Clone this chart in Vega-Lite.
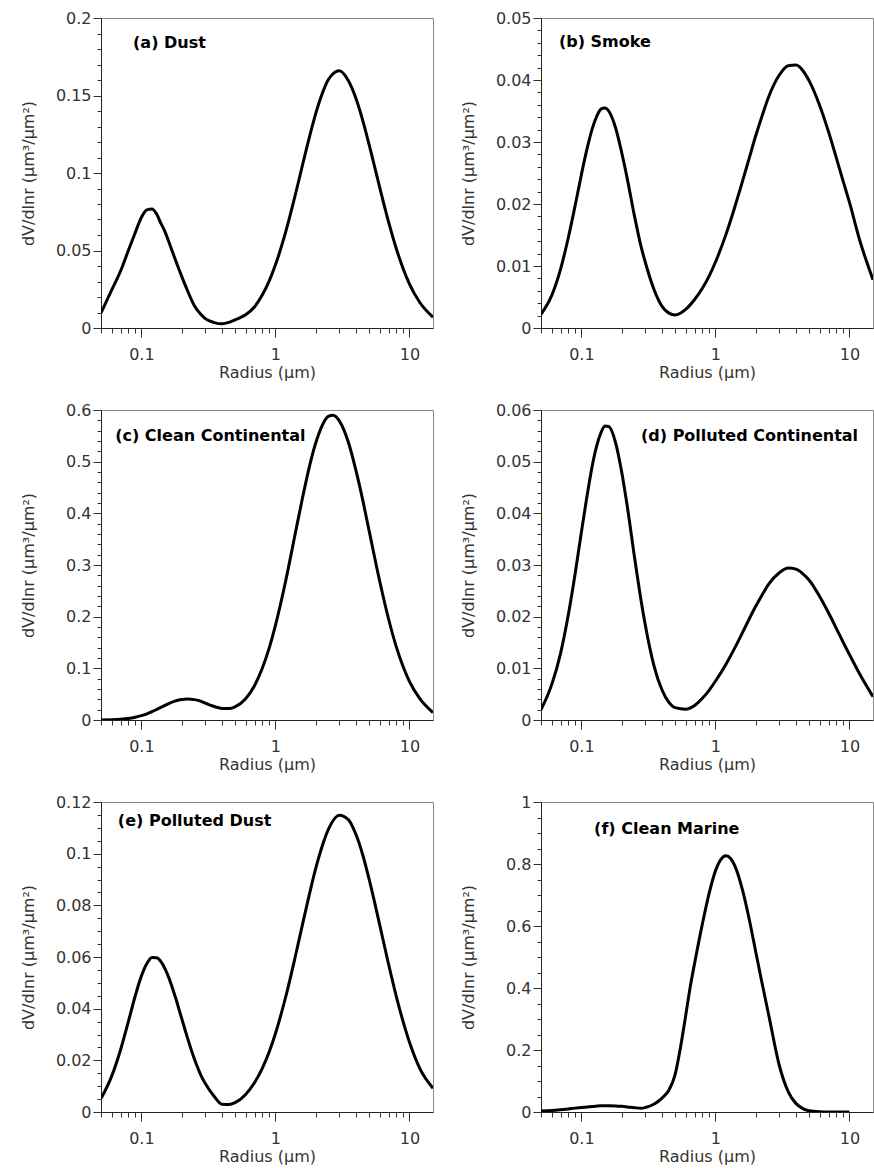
{
"$schema": "https://vega.github.io/schema/vega-lite/v6.json",
"padding": {"left": 19, "top": 9, "right": 0, "bottom": 0},
"datasets": {
"d": [
{"p":"a","r":0.05,"v":0.0097},{"p":"a","r":0.06,"v":0.0244},{"p":"a","r":0.07,"v":0.0368},{"p":"a","r":0.08,"v":0.050},{"p":"a","r":0.09,"v":0.0615},{"p":"a","r":0.1,"v":0.0713},{"p":"a","r":0.11,"v":0.0762},{"p":"a","r":0.12,"v":0.0768},{"p":"a","r":0.13,"v":0.0735},{"p":"a","r":0.14,"v":0.0675},{"p":"a","r":0.15,"v":0.0622},{"p":"a","r":0.16,"v":0.0558},{"p":"a","r":0.18,"v":0.0437},{"p":"a","r":0.2,"v":0.0333},{"p":"a","r":0.22,"v":0.0245},{"p":"a","r":0.25,"v":0.0140},{"p":"a","r":0.28,"v":0.0085},{"p":"a","r":0.3,"v":0.006},{"p":"a","r":0.35,"v":0.0035},{"p":"a","r":0.4,"v":0.0027},{"p":"a","r":0.45,"v":0.0036},{"p":"a","r":0.5,"v":0.0052},{"p":"a","r":0.6,"v":0.0085},{"p":"a","r":0.7,"v":0.0137},{"p":"a","r":0.8,"v":0.0214},{"p":"a","r":0.9,"v":0.0304},{"p":"a","r":1,"v":0.0406},{"p":"a","r":1.2,"v":0.0626},{"p":"a","r":1.4,"v":0.085},{"p":"a","r":1.6,"v":0.1057},{"p":"a","r":1.8,"v":0.1236},{"p":"a","r":2,"v":0.1383},{"p":"a","r":2.2,"v":0.1495},{"p":"a","r":2.5,"v":0.1606},{"p":"a","r":3,"v":0.1660},{"p":"a","r":3.5,"v":0.1597},{"p":"a","r":4,"v":0.1479},{"p":"a","r":4.5,"v":0.1335},{"p":"a","r":5,"v":0.1185},{"p":"a","r":6,"v":0.0908},{"p":"a","r":7,"v":0.0683},{"p":"a","r":8,"v":0.051},{"p":"a","r":9,"v":0.0381},{"p":"a","r":10,"v":0.0285},{"p":"a","r":12,"v":0.0163},{"p":"a","r":15,"v":0.0070},
{"p":"b","r":0.05,"v":0.0022},{"p":"b","r":0.06,"v":0.0052},{"p":"b","r":0.07,"v":0.0095},{"p":"b","r":0.08,"v":0.0146},{"p":"b","r":0.09,"v":0.0198},{"p":"b","r":0.1,"v":0.0247},{"p":"b","r":0.11,"v":0.0288},{"p":"b","r":0.12,"v":0.0320},{"p":"b","r":0.13,"v":0.0341},{"p":"b","r":0.14,"v":0.0353},{"p":"b","r":0.15,"v":0.0355},{"p":"b","r":0.16,"v":0.0350},{"p":"b","r":0.18,"v":0.0323},{"p":"b","r":0.2,"v":0.0283},{"p":"b","r":0.22,"v":0.0241},{"p":"b","r":0.25,"v":0.0179},{"p":"b","r":0.28,"v":0.0130},{"p":"b","r":0.3,"v":0.0106},{"p":"b","r":0.35,"v":0.0061},{"p":"b","r":0.4,"v":0.0035},{"p":"b","r":0.45,"v":0.0024},{"p":"b","r":0.5,"v":0.0021},{"p":"b","r":0.6,"v":0.003},{"p":"b","r":0.7,"v":0.0046},{"p":"b","r":0.8,"v":0.0064},{"p":"b","r":0.9,"v":0.0084},{"p":"b","r":1,"v":0.0106},{"p":"b","r":1.2,"v":0.0151},{"p":"b","r":1.4,"v":0.0196},{"p":"b","r":1.6,"v":0.0238},{"p":"b","r":1.8,"v":0.0276},{"p":"b","r":2,"v":0.0310},{"p":"b","r":2.2,"v":0.0338},{"p":"b","r":2.5,"v":0.0373},{"p":"b","r":3,"v":0.0408},{"p":"b","r":3.5,"v":0.0423},{"p":"b","r":4,"v":0.0424},{"p":"b","r":4.5,"v":0.0415},{"p":"b","r":5,"v":0.0399},{"p":"b","r":6,"v":0.0359},{"p":"b","r":7,"v":0.0316},{"p":"b","r":8,"v":0.0274},{"p":"b","r":9,"v":0.0236},{"p":"b","r":10,"v":0.0203},{"p":"b","r":12,"v":0.0140},{"p":"b","r":15,"v":0.0078},
{"p":"c","r":0.05,"v":0.0002},{"p":"c","r":0.06,"v":0.0006},{"p":"c","r":0.07,"v":0.0015},{"p":"c","r":0.08,"v":0.003},{"p":"c","r":0.09,"v":0.0054},{"p":"c","r":0.1,"v":0.0084},{"p":"c","r":0.11,"v":0.012},{"p":"c","r":0.12,"v":0.0161},{"p":"c","r":0.13,"v":0.0203},{"p":"c","r":0.14,"v":0.0244},{"p":"c","r":0.15,"v":0.0282},{"p":"c","r":0.16,"v":0.0317},{"p":"c","r":0.18,"v":0.0369},{"p":"c","r":0.2,"v":0.0398},{"p":"c","r":0.22,"v":0.0406},{"p":"c","r":0.25,"v":0.0394},{"p":"c","r":0.28,"v":0.0361},{"p":"c","r":0.3,"v":0.0326},{"p":"c","r":0.35,"v":0.0261},{"p":"c","r":0.4,"v":0.0224},{"p":"c","r":0.45,"v":0.0221},{"p":"c","r":0.5,"v":0.0255},{"p":"c","r":0.6,"v":0.0412},{"p":"c","r":0.7,"v":0.0669},{"p":"c","r":0.8,"v":0.1006},{"p":"c","r":0.9,"v":0.1395},{"p":"c","r":1,"v":0.1827},{"p":"c","r":1.2,"v":0.272},{"p":"c","r":1.4,"v":0.358},{"p":"c","r":1.6,"v":0.432},{"p":"c","r":1.8,"v":0.492},{"p":"c","r":2,"v":0.536},{"p":"c","r":2.2,"v":0.566},{"p":"c","r":2.5,"v":0.588},{"p":"c","r":2.7,"v":0.590},{"p":"c","r":3,"v":0.579},{"p":"c","r":3.5,"v":0.538},{"p":"c","r":4,"v":0.482},{"p":"c","r":4.5,"v":0.424},{"p":"c","r":5,"v":0.367},{"p":"c","r":6,"v":0.269},{"p":"c","r":7,"v":0.195},{"p":"c","r":8,"v":0.141},{"p":"c","r":9,"v":0.1026},{"p":"c","r":10,"v":0.0749},{"p":"c","r":12,"v":0.041},{"p":"c","r":15,"v":0.0145},
{"p":"d","r":0.05,"v":0.002},{"p":"d","r":0.06,"v":0.0068},{"p":"d","r":0.07,"v":0.0129},{"p":"d","r":0.08,"v":0.0204},{"p":"d","r":0.09,"v":0.0284},{"p":"d","r":0.1,"v":0.0363},{"p":"d","r":0.11,"v":0.0432},{"p":"d","r":0.12,"v":0.0489},{"p":"d","r":0.13,"v":0.0530},{"p":"d","r":0.14,"v":0.0556},{"p":"d","r":0.15,"v":0.0569},{"p":"d","r":0.16,"v":0.0568},{"p":"d","r":0.18,"v":0.0537},{"p":"d","r":0.2,"v":0.0480},{"p":"d","r":0.22,"v":0.0414},{"p":"d","r":0.25,"v":0.0313},{"p":"d","r":0.28,"v":0.0229},{"p":"d","r":0.3,"v":0.0184},{"p":"d","r":0.35,"v":0.0103},{"p":"d","r":0.4,"v":0.0058},{"p":"d","r":0.45,"v":0.0034},{"p":"d","r":0.5,"v":0.0024},{"p":"d","r":0.6,"v":0.0021},{"p":"d","r":0.7,"v":0.0028},{"p":"d","r":0.8,"v":0.0042},{"p":"d","r":0.9,"v":0.0058},{"p":"d","r":1,"v":0.0075},{"p":"d","r":1.2,"v":0.0108},{"p":"d","r":1.4,"v":0.0140},{"p":"d","r":1.6,"v":0.0170},{"p":"d","r":1.8,"v":0.0197},{"p":"d","r":2,"v":0.0220},{"p":"d","r":2.2,"v":0.0239},{"p":"d","r":2.5,"v":0.0263},{"p":"d","r":3,"v":0.0285},{"p":"d","r":3.5,"v":0.0294},{"p":"d","r":4,"v":0.0292},{"p":"d","r":4.5,"v":0.0283},{"p":"d","r":5,"v":0.0271},{"p":"d","r":6,"v":0.0239},{"p":"d","r":7,"v":0.0207},{"p":"d","r":8,"v":0.0177},{"p":"d","r":9,"v":0.0150},{"p":"d","r":10,"v":0.0127},{"p":"d","r":12,"v":0.0088},{"p":"d","r":15,"v":0.0045},
{"p":"e","r":0.05,"v":0.0052},{"p":"e","r":0.06,"v":0.0138},{"p":"e","r":0.07,"v":0.0241},{"p":"e","r":0.08,"v":0.0350},{"p":"e","r":0.09,"v":0.0449},{"p":"e","r":0.1,"v":0.0526},{"p":"e","r":0.11,"v":0.0575},{"p":"e","r":0.12,"v":0.0598},{"p":"e","r":0.13,"v":0.0597},{"p":"e","r":0.14,"v":0.0582},{"p":"e","r":0.15,"v":0.0555},{"p":"e","r":0.16,"v":0.0521},{"p":"e","r":0.18,"v":0.0442},{"p":"e","r":0.2,"v":0.0362},{"p":"e","r":0.22,"v":0.0290},{"p":"e","r":0.25,"v":0.0202},{"p":"e","r":0.28,"v":0.0139},{"p":"e","r":0.3,"v":0.0110},{"p":"e","r":0.35,"v":0.0060},{"p":"e","r":0.4,"v":0.0030},{"p":"e","r":0.45,"v":0.0029},{"p":"e","r":0.5,"v":0.0036},{"p":"e","r":0.6,"v":0.0068},{"p":"e","r":0.7,"v":0.0114},{"p":"e","r":0.8,"v":0.0170},{"p":"e","r":0.9,"v":0.0233},{"p":"e","r":1,"v":0.0303},{"p":"e","r":1.2,"v":0.0450},{"p":"e","r":1.4,"v":0.0596},{"p":"e","r":1.6,"v":0.0730},{"p":"e","r":1.8,"v":0.0846},{"p":"e","r":2,"v":0.0943},{"p":"e","r":2.2,"v":0.1018},{"p":"e","r":2.5,"v":0.1097},{"p":"e","r":3,"v":0.1149},{"p":"e","r":3.5,"v":0.1132},{"p":"e","r":4,"v":0.1073},{"p":"e","r":4.5,"v":0.0993},{"p":"e","r":5,"v":0.0902},{"p":"e","r":6,"v":0.0725},{"p":"e","r":7,"v":0.0571},{"p":"e","r":8,"v":0.0446},{"p":"e","r":9,"v":0.0348},{"p":"e","r":10,"v":0.0271},{"p":"e","r":12,"v":0.0167},{"p":"e","r":15,"v":0.0092},
{"p":"f","r":0.05,"v":0.003},{"p":"f","r":0.06,"v":0.005},{"p":"f","r":0.07,"v":0.0075},{"p":"f","r":0.08,"v":0.010},{"p":"f","r":0.09,"v":0.0125},{"p":"f","r":0.1,"v":0.0145},{"p":"f","r":0.11,"v":0.0165},{"p":"f","r":0.12,"v":0.018},{"p":"f","r":0.13,"v":0.019},{"p":"f","r":0.14,"v":0.0198},{"p":"f","r":0.15,"v":0.0202},{"p":"f","r":0.16,"v":0.0202},{"p":"f","r":0.18,"v":0.0196},{"p":"f","r":0.2,"v":0.0183},{"p":"f","r":0.22,"v":0.0165},{"p":"f","r":0.25,"v":0.0138},{"p":"f","r":0.28,"v":0.0122},{"p":"f","r":0.3,"v":0.0145},{"p":"f","r":0.35,"v":0.026},{"p":"f","r":0.4,"v":0.045},{"p":"f","r":0.45,"v":0.070},{"p":"f","r":0.5,"v":0.120},{"p":"f","r":0.55,"v":0.210},{"p":"f","r":0.6,"v":0.310},{"p":"f","r":0.65,"v":0.405},{"p":"f","r":0.7,"v":0.480},{"p":"f","r":0.8,"v":0.607},{"p":"f","r":0.9,"v":0.707},{"p":"f","r":1,"v":0.777},{"p":"f","r":1.1,"v":0.815},{"p":"f","r":1.2,"v":0.827},{"p":"f","r":1.3,"v":0.818},{"p":"f","r":1.4,"v":0.793},{"p":"f","r":1.6,"v":0.713},{"p":"f","r":1.8,"v":0.616},{"p":"f","r":2,"v":0.517},{"p":"f","r":2.2,"v":0.428},{"p":"f","r":2.5,"v":0.313},{"p":"f","r":3,"v":0.150},{"p":"f","r":3.5,"v":0.065},{"p":"f","r":4,"v":0.027},{"p":"f","r":4.5,"v":0.011},{"p":"f","r":5,"v":0.004},{"p":"f","r":6,"v":0.0008},{"p":"f","r":7,"v":0.0001},{"p":"f","r":8,"v":0},{"p":"f","r":9,"v":0},{"p":"f","r":10,"v":0}
]
},
"data": {"name": "d"},
"spacing": 20,
"vconcat": [
{"spacing": 25, "hconcat": [
 {"width": 332, "height": 310, "resolve": {"axis": {"x": "independent", "y": "independent"}}, "layer": [
  {"transform": [{"filter": "datum.p === 'a'"}],
   "mark": {"type": "line", "color": "#000", "strokeWidth": 3, "interpolate": "monotone", "clip": true},
   "encoding": {
    "x": {"field": "r", "type": "quantitative", "scale": {"type": "log", "domain": [0.05, 15], "nice": false},
      "axis": {"orient": "bottom", "title": "Radius (μm)", "values": [0.1, 1, 10], "labelExpr": "datum.value + ''", "tickSize": 9, "labelPadding": 9, "titlePadding": 2, "labelFlush": false, "labelOverlap": false}},
    "y": {"field": "v", "type": "quantitative", "scale": {"domain": [0, 0.2], "nice": false},
      "axis": {"orient": "left", "title": "dV/dlnr (μm³/μm²)", "values": [0, 0.05, 0.1, 0.15, 0.2], "labelExpr": "format(datum.value, '.2~f')", "tickSize": 8, "minExtent": 46, "maxExtent": 46, "titlePadding": 19, "labelPadding": 2, "labelFlush": false, "labelOverlap": false}}
   }},
  {"transform": [{"filter": "datum.p === 'a'"}],
   "mark": {"type": "line", "opacity": 0},
   "encoding": {
    "x": {"field": "r", "type": "quantitative", "axis": {"orient": "bottom", "title": null, "labels": false, "domain": false, "tickSize": 5, "minExtent": 0, "values": [0.05,0.06,0.07,0.08,0.09,0.2,0.3,0.4,0.5,0.6,0.7,0.8,0.9,2,3,4,5,6,7,8,9]}},
    "y": {"field": "v", "type": "quantitative", "axis": {"orient": "left", "title": null, "labels": false, "domain": false, "tickSize": 4, "minExtent": 0, "values": [0.01,0.02,0.03,0.04,0.06,0.07,0.08,0.09,0.11,0.12,0.13,0.14,0.16,0.17,0.18,0.19]}}
   }},
  {"data": {"values": [{"t": "(a) Dust"}]},
   "mark": {"type": "text", "font": "DejaVu Sans", "fontWeight": "bold", "fontSize": 16, "align": "left", "baseline": "middle", "color": "#000"},
   "encoding": {"text": {"field": "t"}, "x": {"datum": 0.0867, "axis": null}, "y": {"datum": 0.184, "axis": null}}}
 ]},
 {"width": 332, "height": 310, "resolve": {"axis": {"x": "independent", "y": "independent"}}, "layer": [
  {"transform": [{"filter": "datum.p === 'b'"}],
   "mark": {"type": "line", "color": "#000", "strokeWidth": 3, "interpolate": "monotone", "clip": true},
   "encoding": {
    "x": {"field": "r", "type": "quantitative", "scale": {"type": "log", "domain": [0.05, 15], "nice": false},
      "axis": {"orient": "bottom", "title": "Radius (μm)", "values": [0.1, 1, 10], "labelExpr": "datum.value + ''", "tickSize": 9, "labelPadding": 9, "titlePadding": 2, "labelFlush": false, "labelOverlap": false}},
    "y": {"field": "v", "type": "quantitative", "scale": {"domain": [0, 0.05], "nice": false},
      "axis": {"orient": "left", "title": "dV/dlnr (μm³/μm²)", "values": [0, 0.01, 0.02, 0.03, 0.04, 0.05], "labelExpr": "format(datum.value, '.2~f')", "tickSize": 8, "minExtent": 46, "maxExtent": 46, "titlePadding": 19, "labelPadding": 2, "labelFlush": false, "labelOverlap": false}}
   }},
  {"transform": [{"filter": "datum.p === 'b'"}],
   "mark": {"type": "line", "opacity": 0},
   "encoding": {
    "x": {"field": "r", "type": "quantitative", "axis": {"orient": "bottom", "title": null, "labels": false, "domain": false, "tickSize": 5, "minExtent": 0, "values": [0.05,0.06,0.07,0.08,0.09,0.2,0.3,0.4,0.5,0.6,0.7,0.8,0.9,2,3,4,5,6,7,8,9]}},
    "y": {"field": "v", "type": "quantitative", "axis": {"orient": "left", "title": null, "labels": false, "domain": false, "tickSize": 4, "minExtent": 0, "values": [0.002,0.004,0.006,0.008,0.012,0.014,0.016,0.018,0.022,0.024,0.026,0.028,0.032,0.034,0.036,0.038,0.042,0.044,0.046,0.048]}}
   }},
  {"data": {"values": [{"t": "(b) Smoke"}]},
   "mark": {"type": "text", "font": "DejaVu Sans", "fontWeight": "bold", "fontSize": 16, "align": "left", "baseline": "middle", "color": "#000"},
   "encoding": {"text": {"field": "t"}, "x": {"datum": 0.068, "axis": null}, "y": {"datum": 0.0461, "axis": null}}}
 ]}
]},
{"spacing": 25, "hconcat": [
 {"width": 332, "height": 310, "resolve": {"axis": {"x": "independent", "y": "independent"}}, "layer": [
  {"transform": [{"filter": "datum.p === 'c'"}],
   "mark": {"type": "line", "color": "#000", "strokeWidth": 3, "interpolate": "monotone", "clip": true},
   "encoding": {
    "x": {"field": "r", "type": "quantitative", "scale": {"type": "log", "domain": [0.05, 15], "nice": false},
      "axis": {"orient": "bottom", "title": "Radius (μm)", "values": [0.1, 1, 10], "labelExpr": "datum.value + ''", "tickSize": 9, "labelPadding": 9, "titlePadding": 2, "labelFlush": false, "labelOverlap": false}},
    "y": {"field": "v", "type": "quantitative", "scale": {"domain": [0, 0.6], "nice": false},
      "axis": {"orient": "left", "title": "dV/dlnr (μm³/μm²)", "values": [0, 0.1, 0.2, 0.3, 0.4, 0.5, 0.6], "labelExpr": "format(datum.value, '.2~f')", "tickSize": 8, "minExtent": 46, "maxExtent": 46, "titlePadding": 19, "labelPadding": 2, "labelFlush": false, "labelOverlap": false}}
   }},
  {"transform": [{"filter": "datum.p === 'c'"}],
   "mark": {"type": "line", "opacity": 0},
   "encoding": {
    "x": {"field": "r", "type": "quantitative", "axis": {"orient": "bottom", "title": null, "labels": false, "domain": false, "tickSize": 5, "minExtent": 0, "values": [0.05,0.06,0.07,0.08,0.09,0.2,0.3,0.4,0.5,0.6,0.7,0.8,0.9,2,3,4,5,6,7,8,9]}},
    "y": {"field": "v", "type": "quantitative", "axis": {"orient": "left", "title": null, "labels": false, "domain": false, "tickSize": 4, "minExtent": 0, "values": [0.02,0.04,0.06,0.08,0.12,0.14,0.16,0.18,0.22,0.24,0.26,0.28,0.32,0.34,0.36,0.38,0.42,0.44,0.46,0.48,0.52,0.54,0.56,0.58]}}
   }},
  {"data": {"values": [{"t": "(c) Clean Continental"}]},
   "mark": {"type": "text", "font": "DejaVu Sans", "fontWeight": "bold", "fontSize": 16, "align": "left", "baseline": "middle", "color": "#000"},
   "encoding": {"text": {"field": "t"}, "x": {"datum": 0.0638, "axis": null}, "y": {"datum": 0.5504, "axis": null}}}
 ]},
 {"width": 332, "height": 310, "resolve": {"axis": {"x": "independent", "y": "independent"}}, "layer": [
  {"transform": [{"filter": "datum.p === 'd'"}],
   "mark": {"type": "line", "color": "#000", "strokeWidth": 3, "interpolate": "monotone", "clip": true},
   "encoding": {
    "x": {"field": "r", "type": "quantitative", "scale": {"type": "log", "domain": [0.05, 15], "nice": false},
      "axis": {"orient": "bottom", "title": "Radius (μm)", "values": [0.1, 1, 10], "labelExpr": "datum.value + ''", "tickSize": 9, "labelPadding": 9, "titlePadding": 2, "labelFlush": false, "labelOverlap": false}},
    "y": {"field": "v", "type": "quantitative", "scale": {"domain": [0, 0.06], "nice": false},
      "axis": {"orient": "left", "title": "dV/dlnr (μm³/μm²)", "values": [0, 0.01, 0.02, 0.03, 0.04, 0.05, 0.06], "labelExpr": "format(datum.value, '.2~f')", "tickSize": 8, "minExtent": 46, "maxExtent": 46, "titlePadding": 19, "labelPadding": 2, "labelFlush": false, "labelOverlap": false}}
   }},
  {"transform": [{"filter": "datum.p === 'd'"}],
   "mark": {"type": "line", "opacity": 0},
   "encoding": {
    "x": {"field": "r", "type": "quantitative", "axis": {"orient": "bottom", "title": null, "labels": false, "domain": false, "tickSize": 5, "minExtent": 0, "values": [0.05,0.06,0.07,0.08,0.09,0.2,0.3,0.4,0.5,0.6,0.7,0.8,0.9,2,3,4,5,6,7,8,9]}},
    "y": {"field": "v", "type": "quantitative", "axis": {"orient": "left", "title": null, "labels": false, "domain": false, "tickSize": 4, "minExtent": 0, "values": [0.002,0.004,0.006,0.008,0.012,0.014,0.016,0.018,0.022,0.024,0.026,0.028,0.032,0.034,0.036,0.038,0.042,0.044,0.046,0.048,0.052,0.054,0.056,0.058]}}
   }},
  {"data": {"values": [{"t": "(d) Polluted Continental"}]},
   "mark": {"type": "text", "font": "DejaVu Sans", "fontWeight": "bold", "fontSize": 16, "align": "left", "baseline": "middle", "color": "#000"},
   "encoding": {"text": {"field": "t"}, "x": {"datum": 0.2786, "axis": null}, "y": {"datum": 0.05506, "axis": null}}}
 ]}
]},
{"spacing": 25, "hconcat": [
 {"width": 332, "height": 310, "resolve": {"axis": {"x": "independent", "y": "independent"}}, "layer": [
  {"transform": [{"filter": "datum.p === 'e'"}],
   "mark": {"type": "line", "color": "#000", "strokeWidth": 3, "interpolate": "monotone", "clip": true},
   "encoding": {
    "x": {"field": "r", "type": "quantitative", "scale": {"type": "log", "domain": [0.05, 15], "nice": false},
      "axis": {"orient": "bottom", "title": "Radius (μm)", "values": [0.1, 1, 10], "labelExpr": "datum.value + ''", "tickSize": 9, "labelPadding": 9, "titlePadding": 2, "labelFlush": false, "labelOverlap": false}},
    "y": {"field": "v", "type": "quantitative", "scale": {"domain": [0, 0.12], "nice": false},
      "axis": {"orient": "left", "title": "dV/dlnr (μm³/μm²)", "values": [0, 0.02, 0.04, 0.06, 0.08, 0.1, 0.12], "labelExpr": "format(datum.value, '.2~f')", "tickSize": 8, "minExtent": 46, "maxExtent": 46, "titlePadding": 19, "labelPadding": 2, "labelFlush": false, "labelOverlap": false}}
   }},
  {"transform": [{"filter": "datum.p === 'e'"}],
   "mark": {"type": "line", "opacity": 0},
   "encoding": {
    "x": {"field": "r", "type": "quantitative", "axis": {"orient": "bottom", "title": null, "labels": false, "domain": false, "tickSize": 5, "minExtent": 0, "values": [0.05,0.06,0.07,0.08,0.09,0.2,0.3,0.4,0.5,0.6,0.7,0.8,0.9,2,3,4,5,6,7,8,9]}},
    "y": {"field": "v", "type": "quantitative", "axis": {"orient": "left", "title": null, "labels": false, "domain": false, "tickSize": 4, "minExtent": 0, "values": [0.005,0.01,0.015,0.025,0.03,0.035,0.045,0.05,0.055,0.065,0.07,0.075,0.085,0.09,0.095,0.105,0.11,0.115]}}
   }},
  {"data": {"values": [{"t": "(e) Polluted Dust"}]},
   "mark": {"type": "text", "font": "DejaVu Sans", "fontWeight": "bold", "fontSize": 16, "align": "left", "baseline": "middle", "color": "#000"},
   "encoding": {"text": {"field": "t"}, "x": {"datum": 0.0668, "axis": null}, "y": {"datum": 0.1127, "axis": null}}}
 ]},
 {"width": 332, "height": 310, "resolve": {"axis": {"x": "independent", "y": "independent"}}, "layer": [
  {"transform": [{"filter": "datum.p === 'f'"}],
   "mark": {"type": "line", "color": "#000", "strokeWidth": 3, "interpolate": "monotone", "clip": true},
   "encoding": {
    "x": {"field": "r", "type": "quantitative", "scale": {"type": "log", "domain": [0.05, 15], "nice": false},
      "axis": {"orient": "bottom", "title": "Radius (μm)", "values": [0.1, 1, 10], "labelExpr": "datum.value + ''", "tickSize": 9, "labelPadding": 9, "titlePadding": 2, "labelFlush": false, "labelOverlap": false}},
    "y": {"field": "v", "type": "quantitative", "scale": {"domain": [0, 1], "nice": false},
      "axis": {"orient": "left", "title": "dV/dlnr (μm³/μm²)", "values": [0, 0.2, 0.4, 0.6, 0.8, 1], "labelExpr": "format(datum.value, '.2~f')", "tickSize": 8, "minExtent": 46, "maxExtent": 46, "titlePadding": 19, "labelPadding": 2, "labelFlush": false, "labelOverlap": false}}
   }},
  {"transform": [{"filter": "datum.p === 'f'"}],
   "mark": {"type": "line", "opacity": 0},
   "encoding": {
    "x": {"field": "r", "type": "quantitative", "axis": {"orient": "bottom", "title": null, "labels": false, "domain": false, "tickSize": 5, "minExtent": 0, "values": [0.05,0.06,0.07,0.08,0.09,0.2,0.3,0.4,0.5,0.6,0.7,0.8,0.9,2,3,4,5,6,7,8,9]}},
    "y": {"field": "v", "type": "quantitative", "axis": {"orient": "left", "title": null, "labels": false, "domain": false, "tickSize": 4, "minExtent": 0, "values": [0.05,0.1,0.15,0.25,0.3,0.35,0.45,0.5,0.55,0.65,0.7,0.75,0.85,0.9,0.95]}}
   }},
  {"data": {"values": [{"t": "(f) Clean Marine"}]},
   "mark": {"type": "text", "font": "DejaVu Sans", "fontWeight": "bold", "fontSize": 16, "align": "left", "baseline": "middle", "color": "#000"},
   "encoding": {"text": {"field": "t"}, "x": {"datum": 0.1245, "axis": null}, "y": {"datum": 0.914, "axis": null}}}
 ]}
]}
],
"config": {
 "view": {"stroke": "#8a8a8a", "strokeWidth": 1},
 "axis": {"grid": false, "domainColor": "#222", "tickColor": "#333", "labelColor": "#333", "titleColor": "#333", "labelFont": "DejaVu Sans", "titleFont": "DejaVu Sans", "labelFontSize": 16, "titleFontSize": 16, "titleFontWeight": "normal"}
}
}
